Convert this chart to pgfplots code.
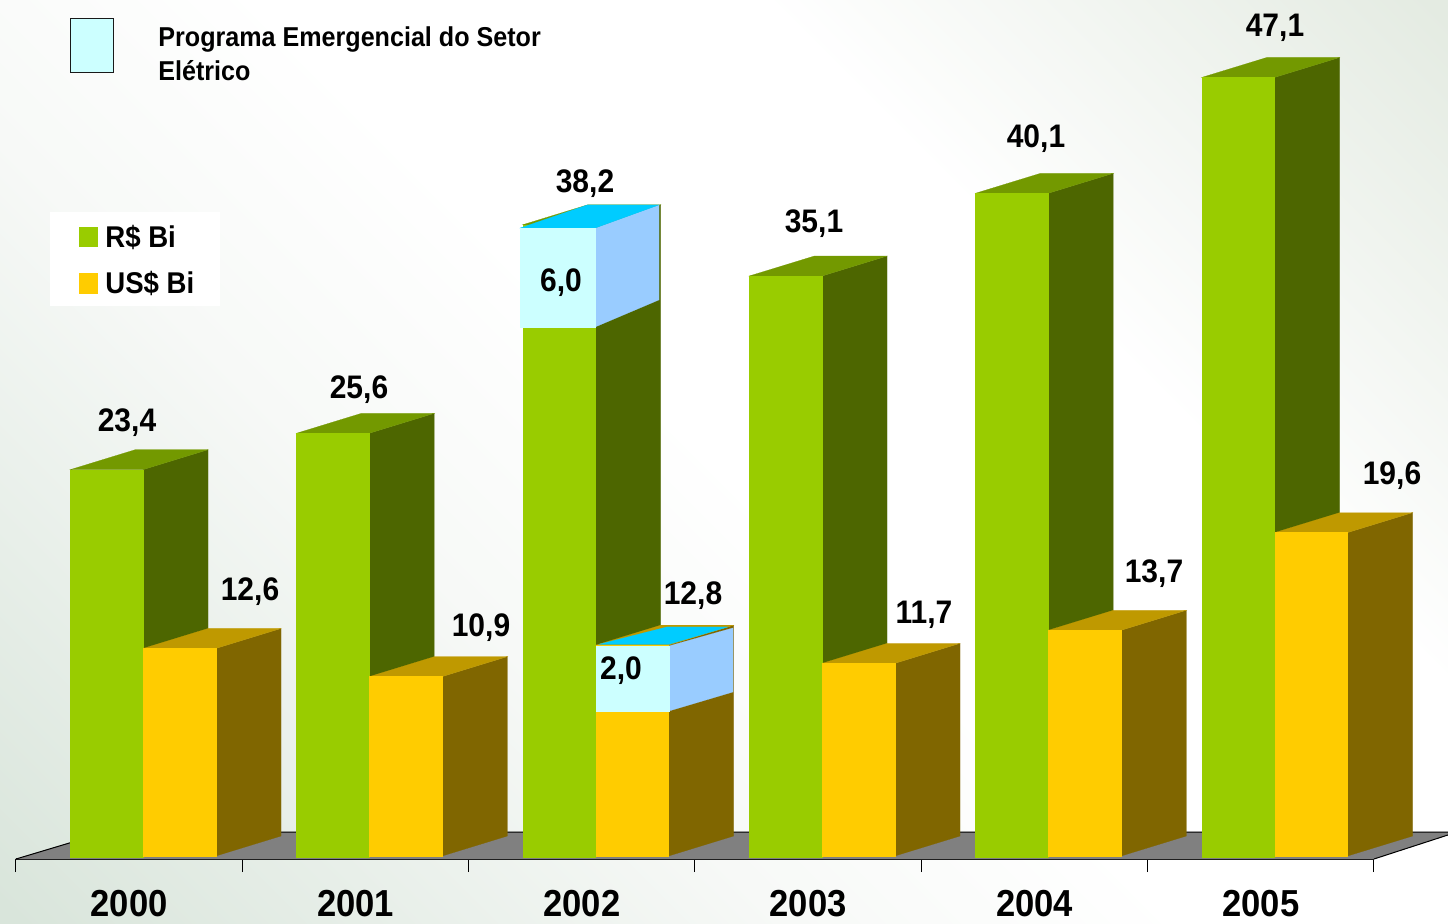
\documentclass[border=0pt]{standalone}
\usepackage{pgfplots}
\pgfplotsset{compat=1.18}
\usepackage{fontspec}
\setmainfont{Liberation Sans}[FakeStretch=0.92]
\definecolor{gfront}{HTML}{99CC00}
\definecolor{gside}{HTML}{4D6600}
\definecolor{gtop}{HTML}{739900}
\definecolor{yfront}{HTML}{FFCC00}
\definecolor{yside}{HTML}{806600}
\definecolor{ytop}{HTML}{BF9900}
\definecolor{pfront}{HTML}{CCFFFF}
\definecolor{pside}{HTML}{99CCFF}
\definecolor{ptop}{HTML}{00CCFF}
\definecolor{floorc}{HTML}{808080}
\definecolor{bgA}{HTML}{D9E5DB}
\definecolor{bgB}{HTML}{F7F9F7}
\definecolor{bgC}{HTML}{E4EBE2}
\pgfdeclarehorizontalshading{bgs}{100bp}{color(0bp)=(bgA);color(15bp)=(bgA);color(38bp)=(bgB);color(50bp)=(white);color(65bp)=(white);color(85bp)=(bgC);color(100bp)=(bgC)}
\newcommand\face[2]{\addplot[fill=#1,draw=#1,line width=0.1pt,mark=none] coordinates {#2} -- cycle;}
% [base], x left edge, value, front, side, top
\newcommand\threedbar[6][0]{%
  \pgfmathsetmacro\xb{#2+0.322}%
  \pgfmathsetmacro\xc{#2+0.288}%
  \pgfmathsetmacro\xd{#2+0.322+0.288}%
  \pgfmathsetmacro\yb{#3+1.208}%
  \pgfmathsetmacro\ya{#1+1.208}%
  \face{#5}{(\xb,#1) (\xd,\ya) (\xd,\yb) (\xb,#3)}%
  \face{#6}{(#2,#3) (\xc,\yb) (\xd,\yb) (\xb,#3)}%
  \face{#4}{(#2,#1) (\xb,#1) (\xb,#3) (#2,#3)}%
}
\begin{document}
\begin{tikzpicture}[x=0.5pt,y=0.5pt,font=\bfseries]
\useasboundingbox (0,0) rectangle (1448,923);
\shade[shading=bgs,shading angle=45] (0,0) rectangle (1448,923);
\begin{axis}[
  at={(8pt,32pt)},anchor=south west,scale only axis,
  width=679pt,height=429.5pt,
  xmin=0,xmax=6,ymin=-0.121,ymax=51.78,
  clip=false,
  axis x line=bottom,axis y line=none,
  axis line style={-,black,line width=0.9pt},
  xtick={0,1,2,3,4,5,6},
  x tick label as interval,
  xticklabels={2000,2001,2002,2003,2004,2005},
  tick align=outside,
  major tick length=6.5pt,
  tick style={black,line width=0.5pt},
  xticklabel style={font=\fontsize{18.8}{20}\selectfont\bfseries,yshift=-5.5pt},
]
% floor
\face{floorc}{(0,-0.121) (0.3977,1.51) (6.327,1.51) (6.327,1.33) (6,-0.121)}
\addplot[black,line width=0.5pt,mark=none] coordinates {(0,-0.121) (0.3977,1.51) (6.327,1.51)};
\addplot[black,line width=0.5pt,mark=none] coordinates {(6,-0.121) (6.327,1.33)};
% bars
\threedbar{0.2386}{23.4}{gfront}{gside}{gtop}
\threedbar[0.06]{0.5612}{12.6}{yfront}{yside}{ytop}
\threedbar{1.2386}{25.6}{gfront}{gside}{gtop}
\threedbar[0.06]{1.5612}{10.9}{yfront}{yside}{ytop}
\threedbar{2.2386}{38.2}{gfront}{gside}{gtop}
% Programa Emergencial, R$
\face{pside}{(2.5584,38.0) (2.841,39.4) (2.841,33.66) (2.5584,32.02)}
\face{ptop}{(2.227,38.0) (2.525,39.4) (2.841,39.4) (2.5584,38.0)}
\face{pfront}{(2.227,32.02) (2.5584,32.02) (2.5584,38.0) (2.227,38.0)}
\threedbar[0.06]{2.5612}{12.8}{yfront}{yside}{ytop}
% Programa Emergencial, US$
\face{pside}{(2.885,12.75) (3.168,13.84) (3.168,9.97) (2.885,8.82)}
\face{ptop}{(2.575,12.85) (2.876,13.9) (3.146,13.9) (2.885,12.85)}
\face{pfront}{(2.5612,8.82) (2.885,8.82) (2.885,12.75) (2.5612,12.75)}
\threedbar{3.2386}{35.1}{gfront}{gside}{gtop}
\threedbar[0.06]{3.5612}{11.7}{yfront}{yside}{ytop}
\threedbar{4.2386}{40.1}{gfront}{gside}{gtop}
\threedbar[0.06]{4.5612}{13.7}{yfront}{yside}{ytop}
\threedbar{5.2386}{47.1}{gfront}{gside}{gtop}
\threedbar[0.06]{5.5612}{19.6}{yfront}{yside}{ytop}
\end{axis}
% legends
\fill[white] (50,923-212) rectangle (220,923-306);
\fill[gfront] (79,923-227) rectangle (98,923-247);
\fill[yfront] (79,923-273) rectangle (98,923-294);
\node[anchor=west,inner sep=0pt,font=\fontsize{15}{16}\selectfont\bfseries] at (105,923-237) {R\$ Bi};
\node[anchor=west,inner sep=0pt,font=\fontsize{15}{16}\selectfont\bfseries] at (105,923-283) {US\$ Bi};
\draw[fill=pfront,draw=black!90,line width=0.5pt] (70,923-19) rectangle (113,923-73);
\node[anchor=base west,inner sep=0pt,font=\fontsize{13.65}{15}\selectfont\bfseries] at (158,923-47) {Programa Emergencial do Setor};
\node[anchor=base west,inner sep=0pt,font=\fontsize{13.65}{15}\selectfont\bfseries] at (158,923-81) {Elétrico};
% value labels
\foreach \x/\y/\t in {127/423/{23,4},250/592/{12,6},359/390/{25,6},481/628/{10,9},585/184/{38,2},561/283/{6,0},693/596/{12,8},621/671/{2,0},814/224/{35,1},924/615/{11,7},1036/139/{40,1},1154/574/{13,7},1275/28/{47,1},1392/476/{19,6}}
  \node[inner sep=0pt,font=\fontsize{16.3}{18}\selectfont\bfseries] at (\x,923-\y) {\t};
\end{tikzpicture}
\end{document}
